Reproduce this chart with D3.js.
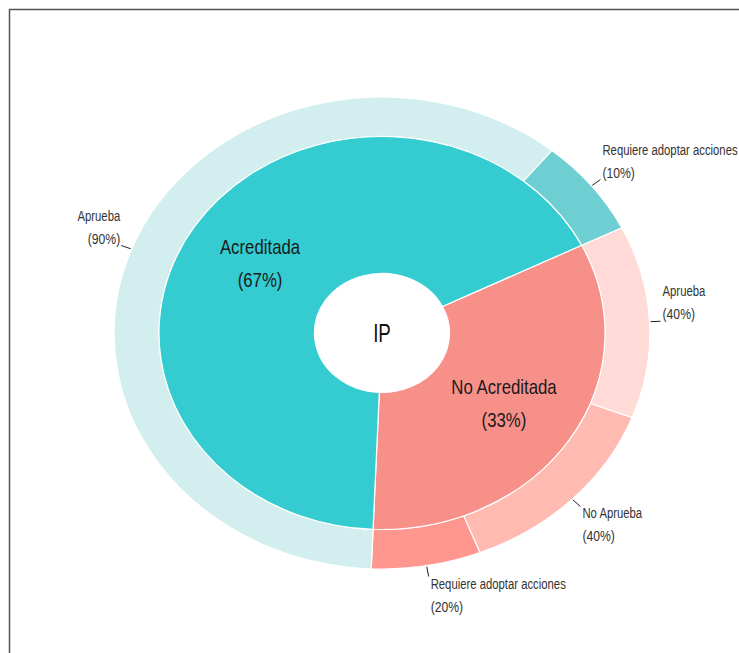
<!DOCTYPE html>
<html><head><meta charset="utf-8">
<script src="https://cdn.jsdelivr.net/npm/d3@7"></script>
<style>
html,body{margin:0;padding:0;background:#fff;overflow:hidden;}
text{font-family:"Liberation Sans","Arimo",Arial,sans-serif;}
</style></head>
<body>
<svg id="chart" width="739" height="653"></svg>
<script>
// ---- data ----
const centerLabel = "IP";
const parentNames = ["No Acreditada", "Acreditada"];
const parentValues = [33, 67];
const parentColors = ["#F8908A", "#34CCD1"];
const childParents = ["No Acreditada", "No Acreditada", "No Acreditada", "Acreditada", "Acreditada"];
const childNames = ["Aprueba", "No Aprueba", "Requiere adoptar acciones", "Aprueba", "Requiere adoptar acciones"];
const childValues = [40, 40, 20, 90, 10];
const childColors = ["#FFDAD6", "#FFBAB1", "#FF978E", "#D2EEEF", "#6DCFD2"];

// ---- layout ----
const svg = d3.select("#chart");
const cx = 382, cy = 333;
const sx = 1.135;             // horizontal stretch of the chart
const rHole = 59.5, rInner = 196.5, rOuter = 236;
const start = 63.5 * Math.PI / 180;

svg.append("rect").attr("x", 9.5).attr("y", 9.5).attr("width", 800).attr("height", 700)
  .attr("fill", "#fff").attr("stroke", "#555").attr("stroke-width", 1.5);

const pie = d3.pie().sort(null).startAngle(start).endAngle(start + 2 * Math.PI);
const parentArcs = pie(parentValues);

const childArcs = [];
parentNames.forEach((p, pi) => {
  const pa = parentArcs[pi];
  const idx = childParents.map((cp, i) => cp === p ? i : -1).filter(i => i >= 0);
  const sub = d3.pie().sort(null).startAngle(pa.startAngle).endAngle(pa.endAngle)(idx.map(i => childValues[i]));
  idx.forEach((i, k) => childArcs[i] = Object.assign({}, sub[k], {idx: i}));
});

const g = svg.append("g").attr("transform", `translate(${cx},${cy}) scale(${sx},1)`);
const arcIn = d3.arc().innerRadius(rHole).outerRadius(rInner);
const arcOut = d3.arc().innerRadius(rInner).outerRadius(rOuter);

g.selectAll("path.out").data(childArcs).join("path").attr("class", "out")
  .attr("d", arcOut).attr("fill", (d) => childColors[d.idx])
  .attr("stroke", "#fff").attr("stroke-width", 1.2).attr("vector-effect", "non-scaling-stroke");
g.selectAll("path.in").data(parentArcs).join("path").attr("class", "in")
  .attr("d", arcIn).attr("fill", (d, i) => parentColors[i])
  .attr("stroke", "#fff").attr("stroke-width", 1.2).attr("vector-effect", "non-scaling-stroke");

function ntext(x, y, str, size, anchor, fill, sc) {
  svg.append("g").attr("transform", `translate(${x},${y}) scale(${sc},1)`)
    .append("text").attr("text-anchor", anchor).attr("font-size", size).attr("fill", fill).text(str);
}

// center label
ntext(cx, cy + 9, centerLabel, 26, "middle", "#111", 0.72);

// inner labels
parentArcs.forEach((a, i) => {
  const [x, y] = arcIn.centroid(a);
  const px = cx + x * sx, py = cy + y;
  ntext(px, py - 9, parentNames[i], 20, "middle", "#1a1a1a", 0.84);
  ntext(px, py + 24, `(${Math.round(parentValues[i])}%)`, 20, "middle", "#1a1a1a", 0.84);
});

// outer labels with leaders
childArcs.forEach((a) => {
  const m = (a.startAngle + a.endAngle) / 2;
  const s = Math.sin(m), c = Math.cos(m);
  let dx = s * sx, dy = -c; const n = Math.hypot(dx, dy); dx /= n; dy /= n;
  const x0 = cx + rOuter * s * sx + dx, y0 = cy - rOuter * c + dy;
  const x1 = x0 + dx * 10, y1 = y0 + dy * 10;
  svg.append("line").attr("x1", x0).attr("y1", y0).attr("x2", x1).attr("y2", y1)
    .attr("stroke", "#222").attr("stroke-width", 1);
  const right = s >= 0;
  const tx = right ? x1 + 2 : x1 - 1;
  const below = c < -0.5;
  const firstY = below ? y1 + 12 : y1 - 25;
  ntext(tx, firstY, childNames[a.idx], 14.5, right ? "start" : "end", "#333", 0.78);
  ntext(tx, firstY + 23, `(${childValues[a.idx]}%)`, 14.5, right ? "start" : "end", "#333", 0.84);
});
</script>
</body></html>
